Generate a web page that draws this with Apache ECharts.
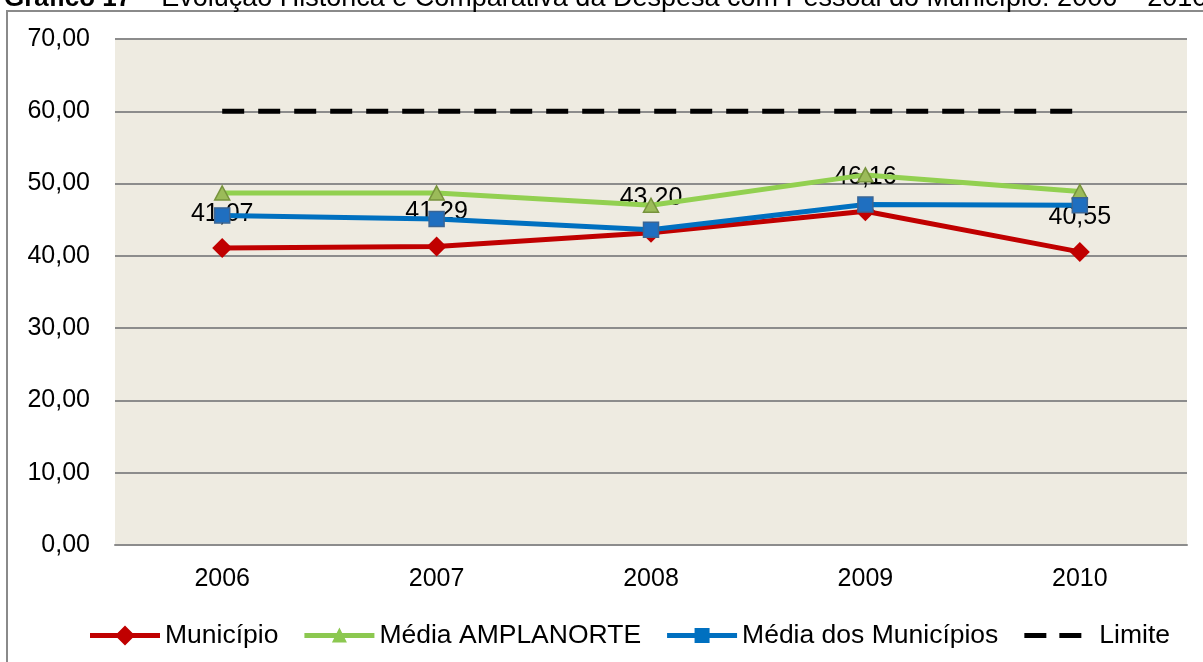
<!DOCTYPE html>
<html>
<head>
<meta charset="utf-8">
<script src="https://cdn.jsdelivr.net/npm/echarts@6/dist/echarts.min.js"></script>
<style>
html,body{margin:0;padding:0;background:#fff;}
#chart{width:1203px;height:662px;}
</style>
</head>
<body>
<div id="chart"></div>
<script>
const titleBold = 'Gráfico 17';
const titleRest = ' – Evolução Histórica e Comparativa da Despesa com Pessoal do Município: 2006 – 2010';
const categories = ['2006', '2007', '2008', '2009', '2010'];
const municipio = [41.07, 41.29, 43.20, 46.16, 40.55];
const amplanorte = [48.7, 48.7, 47.0, 51.2, 48.9];
const mediaMunicipios = [45.6, 45.1, 43.6, 47.1, 47.0];
const limite = [60, 60, 60, 60, 60];
const seriesNames = ['Município', 'Média AMPLANORTE', 'Média dos Municípios', 'Limite'];
const yMin = 0, yMax = 70, yStep = 10;

const fmt = v => v.toFixed(2).replace('.', ',');
const FONT = 'Liberation Sans, Arial, sans-serif';
const FS = 25;

// legend icons (70 x 20 box; tiny slivers fix the bounds)
const B = 'M0 0 L0.01 0 L0.01 0.01 Z M70 20 L69.99 20 L69.99 19.99 Z ';
const LINE = 'M0 7.5 L70 7.5 L70 12.5 L0 12.5 Z ';
const iconRed = 'path://' + B + LINE + 'M35 0 L45 10 L35 20 L25 10 Z';
const iconGreen = 'path://' + B + LINE + 'M35 2 L42.5 17 L27.5 17 Z';
const iconBlue = 'path://' + B + LINE + 'M27.5 2.5 L42.5 2.5 L42.5 17.5 L27.5 17.5 Z';
const iconLim = 'path://' + B + 'M0 7.5 L22 7.5 L22 12.5 L0 12.5 Z M35 7.5 L57 7.5 L57 12.5 L35 12.5 Z';
const noBorder = {borderWidth: 0, borderColor: 'transparent'};

const chart = echarts.init(document.getElementById('chart'), null, {renderer: 'canvas'});
chart.setOption({
  animation: false,
  backgroundColor: '#ffffff',
  textStyle: {fontFamily: FONT},
  graphic: [
    {type: 'rect', shape: {x: 7, y: 11, width: 1230, height: 700}, style: {fill: 'none', stroke: '#8a8a8a', lineWidth: 2}, z: -10},
    {type: 'text', x: 4, y: -1, style: {
      text: '{b|' + titleBold + '}{r|' + titleRest + '}',
      verticalAlign: 'middle',
      rich: {
        b: {fontFamily: FONT, fontSize: 26, fontWeight: 'bold', fill: '#000'},
        r: {fontFamily: FONT, fontSize: 27, fill: '#000'}
      }
    }}
  ],
  grid: {left: 115, right: 16, top: 39, bottom: 117, show: true, backgroundColor: '#EEEBE1', borderWidth: 0},
  legend: {
    bottom: 8, left: 85,
    itemWidth: 70, itemHeight: 20, itemGap: 26,
    symbolKeepAspect: false,
    textStyle: {fontFamily: FONT, fontSize: 26.5, color: '#000'},
    data: [
      {name: seriesNames[0], icon: iconRed, itemStyle: Object.assign({color: '#C00000'}, noBorder)},
      {name: seriesNames[1], icon: iconGreen, itemStyle: Object.assign({color: '#8CC850'}, noBorder)},
      {name: seriesNames[2], icon: iconBlue, itemStyle: Object.assign({color: '#0070C0'}, noBorder)},
      {name: seriesNames[3], icon: iconLim, itemStyle: Object.assign({color: '#000000'}, noBorder)}
    ]
  },
  xAxis: {
    type: 'category', data: categories, boundaryGap: true,
    axisLine: {show: true, lineStyle: {color: '#8c8c8c', width: 2}},
    axisTick: {show: false},
    axisLabel: {fontFamily: FONT, fontSize: FS, color: '#000', margin: 22}
  },
  yAxis: {
    type: 'value', min: yMin, max: yMax, interval: yStep,
    axisLine: {show: false}, axisTick: {show: false},
    axisLabel: {fontFamily: FONT, fontSize: FS, color: '#000', margin: 25, formatter: v => fmt(v)},
    splitLine: {show: true, lineStyle: {color: '#8c8c8c', width: 2}}
  },
  series: [
    {
      name: seriesNames[0], type: 'line', data: municipio,
      lineStyle: {color: '#C00000', width: 5}, itemStyle: {color: '#C00000'},
      symbol: 'diamond', symbolSize: 20,
      label: {show: true, position: 'top', distance: 12, fontFamily: FONT, fontSize: FS, color: '#000', formatter: p => fmt(p.value)},
      z: 3
    },
    {
      name: seriesNames[1], type: 'line', data: amplanorte,
      lineStyle: {color: '#92D050', width: 5},
      itemStyle: {color: '#9BBB59', borderColor: '#77933C', borderWidth: 1.5},
      symbol: 'triangle', symbolSize: [15, 14],
      z: 4
    },
    {
      name: seriesNames[2], type: 'line', data: mediaMunicipios,
      lineStyle: {color: '#0070C0', width: 5},
      itemStyle: {color: '#1F6FC0', borderColor: '#3A6594', borderWidth: 1.5},
      symbol: 'rect', symbolSize: 15,
      z: 5
    },
    {
      name: seriesNames[3], type: 'line', data: limite,
      lineStyle: {color: '#000000', width: 5, type: [22, 14], cap: 'butt'},
      itemStyle: {color: '#000000'},
      symbol: 'none',
      z: 6
    }
  ]
});
</script>
</body>
</html>
